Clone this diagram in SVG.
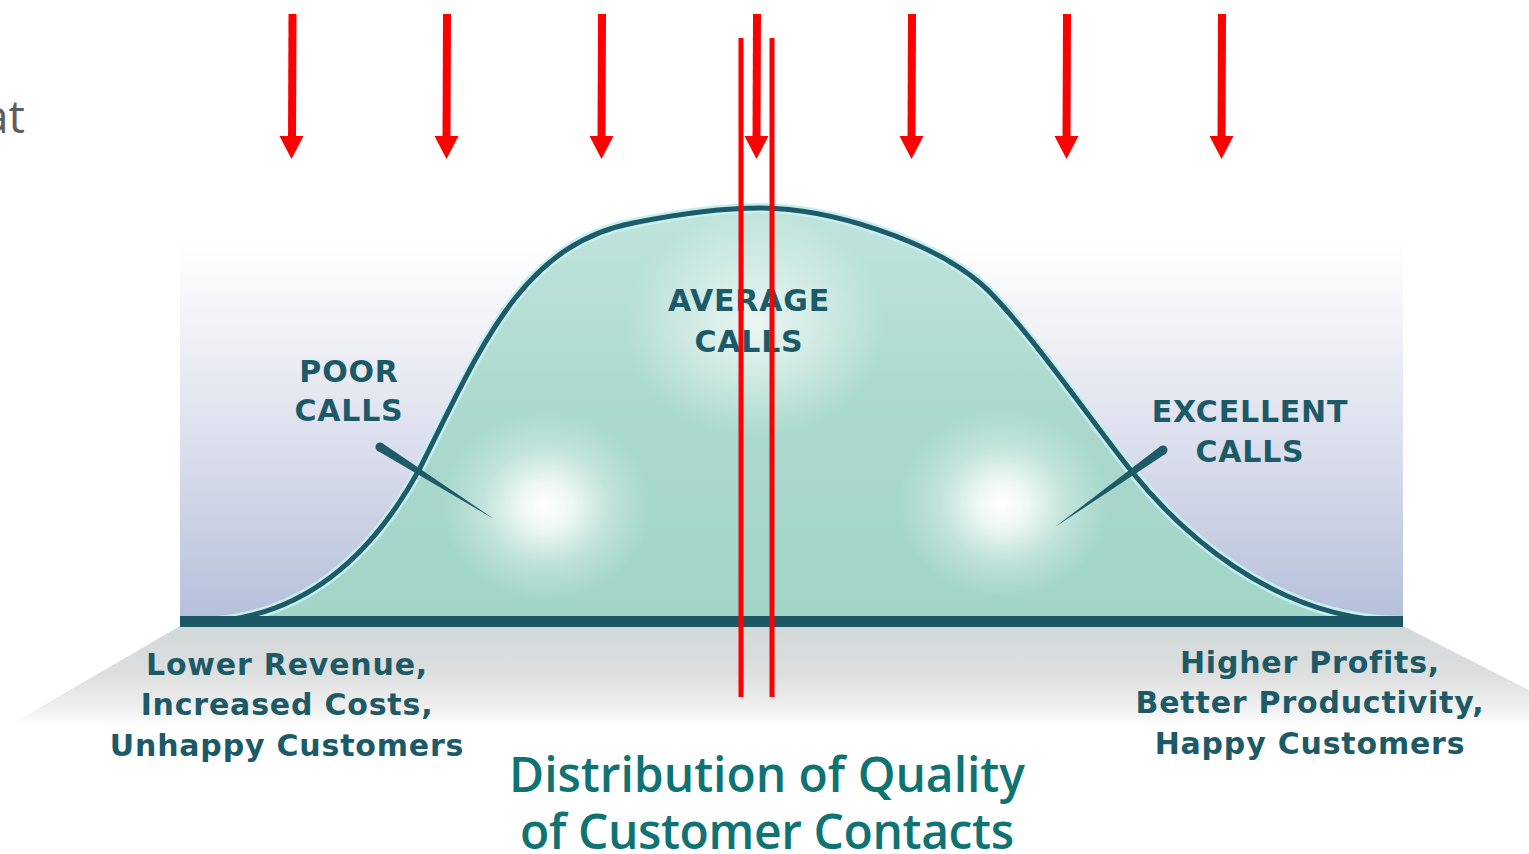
<svg xmlns="http://www.w3.org/2000/svg" width="1529" height="854" viewBox="0 0 1529 854">
  <style>
    .lbl { font-family: "DejaVu Sans", Verdana, sans-serif; font-weight: bold; font-size: 30px; fill: #1c5a68; letter-spacing: 0.8px; text-anchor: middle; }
    .title { font-family: "Open Sans", "Noto Sans", sans-serif; font-weight: 600; font-size: 48px; fill: #107373; text-anchor: middle; }
    .head { fill: #ff0000; }
    .tick { fill: #1d5b68; }
  </style>
  <defs>
    <linearGradient id="panelGrad" x1="0" y1="0" x2="0" y2="1">
      <stop offset="0" stop-color="#ffffff"/>
      <stop offset="0.25" stop-color="#f0f1f6"/>
      <stop offset="0.6" stop-color="#d6daea"/>
      <stop offset="1" stop-color="#b4bfd9"/>
    </linearGradient>
    <linearGradient id="floorGrad" x1="0" y1="0" x2="0" y2="1">
      <stop offset="0" stop-color="#d2d8d8"/>
      <stop offset="0.5" stop-color="#dedfdf"/>
      <stop offset="0.85" stop-color="#f2f2f2"/>
      <stop offset="1" stop-color="#ffffff"/>
    </linearGradient>
    <linearGradient id="fillGrad" x1="0" y1="0" x2="0" y2="1">
      <stop offset="0" stop-color="#c0e4dc"/>
      <stop offset="0.5" stop-color="#aad9cd"/>
      <stop offset="1" stop-color="#a2d4c8"/>
    </linearGradient>
    <radialGradient id="glow">
      <stop offset="0" stop-color="#ffffff" stop-opacity="1"/>
      <stop offset="0.25" stop-color="#ffffff" stop-opacity="0.8"/>
      <stop offset="0.6" stop-color="#ffffff" stop-opacity="0.3"/>
      <stop offset="1" stop-color="#ffffff" stop-opacity="0"/>
    </radialGradient>
    <radialGradient id="softGlow">
      <stop offset="0" stop-color="#ffffff" stop-opacity="0.75"/>
      <stop offset="1" stop-color="#ffffff" stop-opacity="0"/>
    </radialGradient>
    <path id="bell" d="M 200 622 C 300 620, 370 560, 420 468 C 480 350, 520 245, 633 223 C 673 215, 720 208, 760 208 C 830 208, 930 240.5, 980 283 C 1020 317, 1105 440, 1133 473 C 1175 525, 1270 620, 1400 621"/>
    <clipPath id="bellClip">
      <use href="#bell"/>
    </clipPath>
  </defs>

  <rect width="1529" height="854" fill="#ffffff"/>

  <!-- partial word at the left margin -->
  <text x="25" y="133" font-family="Open Sans, Noto Sans, sans-serif" font-size="46" fill="#5a5f5f" text-anchor="end">at</text>

  <!-- backdrop wall and floor -->
  <g id="floor">
    <polygon points="180,626 1403,626 1529,690 1529,726 15,726 15,722" fill="url(#floorGrad)"/>
  </g>
  <g id="panel">
    <rect x="180" y="240" width="1223" height="384" fill="url(#panelGrad)"/>
  </g>

  <!-- bell curve -->
  <g id="curve">
    <use href="#bell" fill="url(#fillGrad)"/>
    <g clip-path="url(#bellClip)">
      <ellipse cx="546" cy="506" rx="105" ry="95" fill="url(#glow)"/>
      <ellipse cx="1003" cy="504" rx="105" ry="95" fill="url(#glow)"/>
      <ellipse cx="755" cy="325" rx="130" ry="115" fill="url(#softGlow)"/>
    </g>
    <use href="#bell" fill="none" stroke="#c8eff0" stroke-width="10"/>
    <use href="#bell" fill="none" stroke="#1d5b68" stroke-width="5"/>
    <!-- axis -->
    <rect x="180" y="616" width="1223" height="11" fill="#1b5764"/>
  </g>

  <!-- tick pointers -->
  <g id="pointer-poor">
    <polygon class="tick" points="382.4,443.2 377.6,450.8 494,519"/>
    <circle class="tick" cx="380" cy="447" r="4.5"/>
  </g>
  <g id="pointer-excellent">
    <polygon class="tick" points="1165.6,453.7 1160.4,446.3 1055,527"/>
    <circle class="tick" cx="1163" cy="450" r="4.5"/>
  </g>

  <g id="label-poor">
    <text class="lbl" x="349" y="382">POOR</text>
    <text class="lbl" x="349" y="421">CALLS</text>
  </g>
  <g id="label-average">
    <text class="lbl" x="749" y="311">AVERAGE</text>
    <text class="lbl" x="749" y="352">CALLS</text>
  </g>
  <g id="label-excellent">
    <text class="lbl" x="1250" y="422">EXCELLENT</text>
    <text class="lbl" x="1250" y="462">CALLS</text>
  </g>

  <g id="outcome-low">
    <text class="lbl" x="287" y="675">Lower Revenue,</text>
    <text class="lbl" x="287" y="715">Increased Costs,</text>
    <text class="lbl" x="287" y="756">Unhappy Customers</text>
  </g>
  <g id="outcome-high">
    <text class="lbl" x="1310" y="673">Higher Profits,</text>
    <text class="lbl" x="1310" y="713">Better Productivity,</text>
    <text class="lbl" x="1310" y="754">Happy Customers</text>
  </g>

  <g id="title">
    <text class="title" x="767" y="792" textLength="516" lengthAdjust="spacing">Distribution of Quality</text>
    <text class="title" x="767" y="849" textLength="494" lengthAdjust="spacing">of Customer Contacts</text>
  </g>

  <!-- red markers -->
  <g id="connectors">
    <g stroke="#ff0000" stroke-width="8">
      <line x1="292.5" y1="14" x2="292" y2="140"/>
      <line x1="447" y1="14" x2="446.5" y2="140"/>
      <line x1="602" y1="14" x2="601.5" y2="140"/>
      <line x1="757" y1="14" x2="756.5" y2="140"/>
      <line x1="912" y1="14" x2="911.5" y2="140"/>
      <line x1="1067" y1="14" x2="1066.5" y2="140"/>
      <line x1="1222" y1="14" x2="1221.5" y2="140"/>
    </g>
    <g class="head">
      <polygon points="279.5,136 303.5,136 291.5,159"/>
      <polygon points="434.5,136 458.5,136 446.5,159"/>
      <polygon points="589.5,136 613.5,136 601.5,159"/>
      <polygon points="744.5,136 768.5,136 756.5,159"/>
      <polygon points="899.5,136 923.5,136 911.5,159"/>
      <polygon points="1054.5,136 1078.5,136 1066.5,159"/>
      <polygon points="1209.5,136 1233.5,136 1221.5,159"/>
    </g>
    <g stroke="#ff0000" stroke-width="5">
      <line x1="741" y1="38" x2="741" y2="697"/>
      <line x1="772" y1="38" x2="772" y2="697"/>
    </g>
  </g>
</svg>
